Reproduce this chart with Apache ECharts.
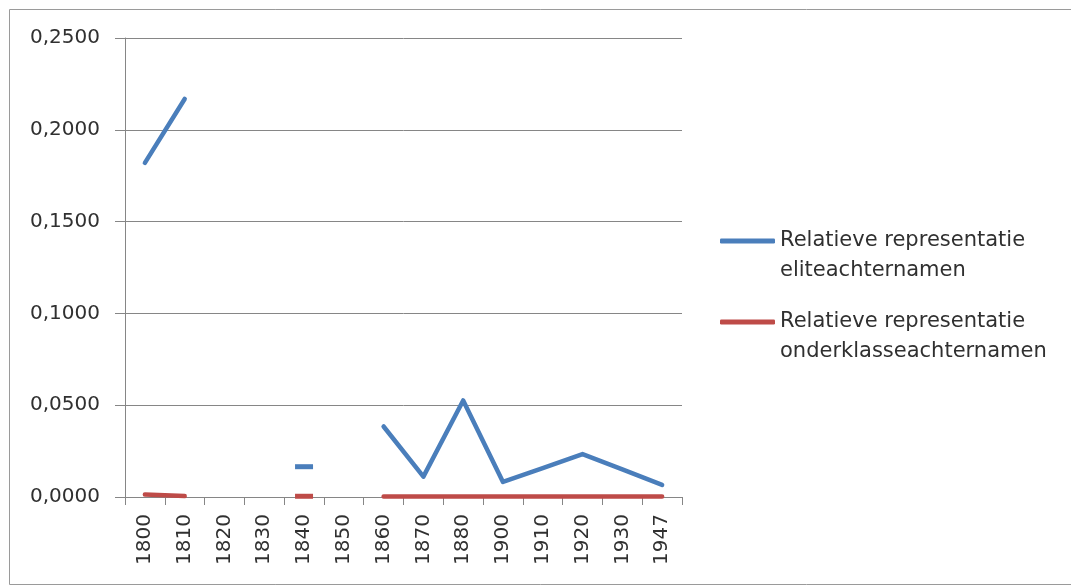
<!DOCTYPE html>
<html><head><meta charset="utf-8">
<script src="https://cdn.jsdelivr.net/npm/echarts@6/dist/echarts.min.js"></script>
<style>html,body{margin:0;padding:0;background:#fff}#c{width:1071px;height:587px}</style>
</head><body><div id="c"></div>
<script>
const categories = ['1800','1810','1820','1830','1840','1850','1860','1870','1880','1900','1910','1920','1930','1947'];
const eliteValues = [0.1820, 0.2168, null, null, 0.0165, null, 0.0384, 0.0111, 0.0526, 0.0082, 0.0157, 0.0234, 0.0150, 0.0066];
const onderklasseValues = [0.0013, 0.0005, null, null, 0.0004, null, 0.0003, 0.0003, 0.0003, 0.0003, 0.0003, 0.0003, 0.0003, 0.0003];
const yTicks = [0, 0.05, 0.10, 0.15, 0.20, 0.25];
const seriesNames = ['Relatieve representatie\neliteachternamen', 'Relatieve representatie\nonderklasseachternamen'];
const colors = ['#4a7ebb', '#be4b48'];

function withIsolated(arr) {
  return arr.map((v, i) => {
    const prev = i > 0 ? arr[i-1] : null, next = i < arr.length-1 ? arr[i+1] : null;
    if (v !== null && prev === null && next === null) {
      return {value: v, symbol: 'rect', symbolSize: [18, 5]};
    }
    return v;
  });
}
const F = 'DejaVu Sans';
const chart = echarts.init(document.getElementById('c'));
const legendBase = {
  left: 720, orient: 'vertical', itemWidth: 55, itemHeight: 5, icon: 'roundRect',
  itemGap: 0, padding: 0, selectedMode: false,
  formatter: name => '\n' + name,
  textStyle: {fontFamily: F, fontSize: 21, color: '#303030', lineHeight: 30}
};
chart.setOption({
  animation: false,
  graphic: [{type: 'rect', shape: {x: 9.5, y: 9.5, width: 1080, height: 575}, style: {fill: 'none', stroke: '#9a9a9a', lineWidth: 1}, silent: true}],
  grid: {left: 125, right: 389, top: 38, bottom: 90, containLabel: false},
  legend: [
    Object.assign({}, legendBase, {top: 196, data: [{name: seriesNames[0], itemStyle: {color: colors[0]}}]}),
    Object.assign({}, legendBase, {top: 277, data: [{name: seriesNames[1], itemStyle: {color: colors[1]}}]})
  ],
  xAxis: {
    type: 'category', data: categories, boundaryGap: true,
    axisLine: {lineStyle: {color: '#868686', width: 1}},
    axisTick: {show: true, length: 8, alignWithLabel: false, lineStyle: {color: '#868686'}},
    axisLabel: {rotate: 90, fontFamily: F, fontSize: 20, color: '#303030', margin: 17, interval: 0}
  },
  yAxis: {
    type: 'value', min: yTicks[0], max: yTicks[yTicks.length-1], interval: 0.05,
    axisLine: {show: true, lineStyle: {color: '#868686', width: 1}},
    axisTick: {show: true, length: 10, inside: false, lineStyle: {color: '#868686'}},
    splitLine: {show: true, lineStyle: {color: '#868686', width: 1}},
    axisLabel: {fontFamily: F, fontSize: 20, color: '#303030', margin: 25,
      formatter: v => v.toFixed(4).replace('.', ',')}
  },
  series: [
    {name: seriesNames[0], type: 'line', data: withIsolated(eliteValues), symbol: 'none', showSymbol: true,
     connectNulls: false, lineStyle: {color: colors[0], width: 4.5, cap: 'round', join: 'round'},
     itemStyle: {color: colors[0]}, color: colors[0]},
    {name: seriesNames[1], type: 'line', data: withIsolated(onderklasseValues), symbol: 'none', showSymbol: true,
     connectNulls: false, lineStyle: {color: colors[1], width: 4.5, cap: 'round', join: 'round'},
     itemStyle: {color: colors[1]}, color: colors[1]}
  ]
});
</script></body></html>
